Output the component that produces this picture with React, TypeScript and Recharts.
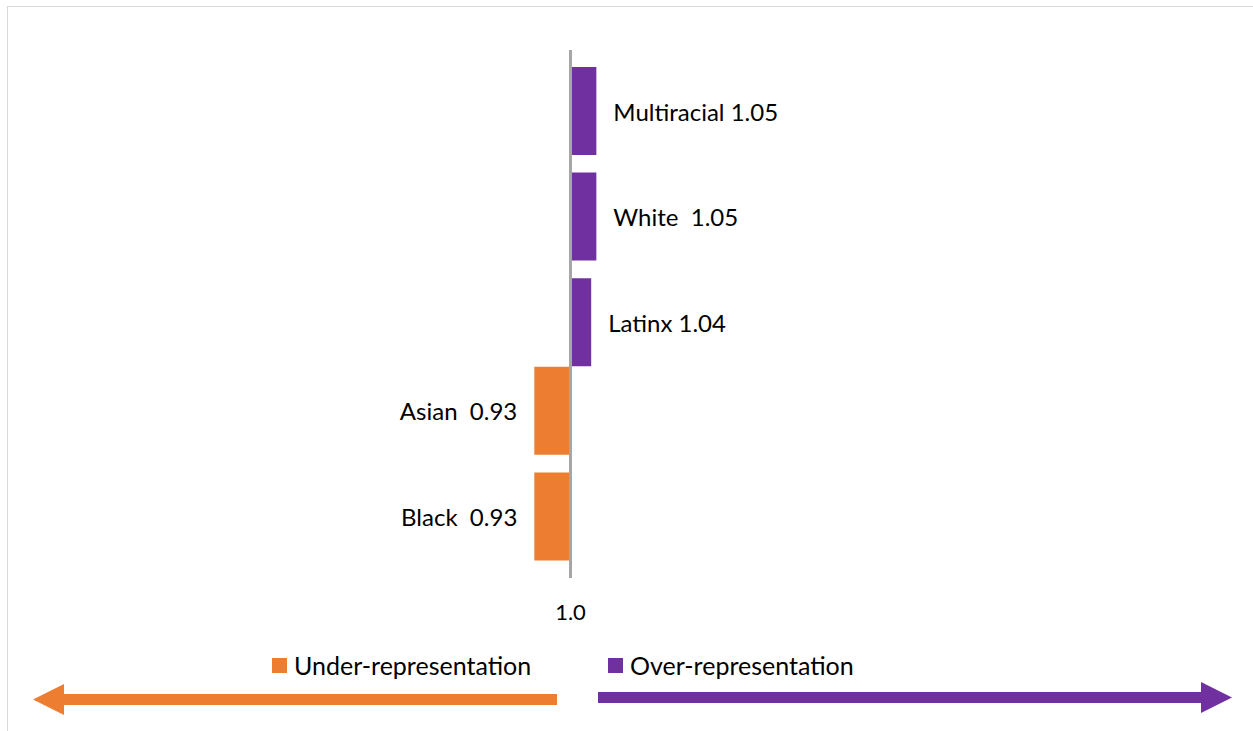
import React from "react";
import { BarChart, Bar, XAxis, YAxis, ReferenceLine, LabelList, Legend } from "recharts";

// groups from top to bottom, representation ratio against parity (1.0)
const groups = ["Multiracial", "White", "Latinx", "Asian", "Black"];
const overRatio = [1.05, 1.05, 1.04, null, null];
const underRatio = [null, null, null, 0.93, 0.93];
const labelSpacer = [" ", "  ", " ", "  ", "  "];
const parity = 1.0;
const parityTicks = [0];

const UNDER_NAME = "Under-representation";
const OVER_NAME = "Over-representation";

const ORANGE = "#ED7D31";
const PURPLE = "#7030A0";
const AXIS_GRAY = "#A6A6A6";
const FONT = "Lato, 'Noto Sans', sans-serif";
const LABEL_SIZE = 24;

const data = groups.map((g, i) => {
  const o = overRatio[i];
  const u = underRatio[i];
  return {
    group: g,
    over: o == null ? null : o - parity,
    under: u == null ? null : u - parity,
    overLabel: o == null ? null : `${g}${labelSpacer[i]}${o.toFixed(2)}`,
    underLabel: u == null ? null : `${g}${labelSpacer[i]}${u.toFixed(2)}`,
  };
});

function BarLabel(props: any) {
  const { value, side } = props;
  if (value == null || value === "") return null;
  const vb = props.viewBox ?? props;
  const x = Number(vb.x);
  const w = Number(vb.width);
  const y = Number(vb.y);
  const h = Number(vb.height);
  const left = Math.min(x, x + w);
  const right = Math.max(x, x + w);
  const tx = side === "right" ? right + 17 : left - 17;
  return (
    <text
      x={tx}
      y={y + h / 2}
      textAnchor={side === "right" ? "start" : "end"}
      dominantBaseline="central"
      fontFamily={FONT}
      fontSize={LABEL_SIZE}
      fill="#000"
      xmlSpace="preserve"
      style={{ whiteSpace: "pre" }}
    >
      {value}
    </text>
  );
}

function ParityTick(props: any) {
  const { x, y, payload } = props;
  return (
    <text x={x} y={y} dy={34} textAnchor="middle" fontFamily={FONT} fontSize={22} fill="#000">
      {(payload.value + parity).toFixed(1)}
    </text>
  );
}

function LegendContent(props: any) {
  const items = [...(props.payload ?? [])].sort((a: any, b: any) =>
    a.value === UNDER_NAME ? -1 : b.value === UNDER_NAME ? 1 : 0
  );
  return (
    <div style={{ display: "flex", paddingLeft: 272, fontFamily: FONT, fontSize: 25, color: "#000" }}>
      {items.map((p: any) => (
        <div key={p.value} style={{ display: "flex", alignItems: "center", width: 336, height: 30 }}>
          <span style={{ display: "inline-block", width: 15, height: 15, background: p.color, marginRight: 7 }} />
          <span style={{ lineHeight: "30px" }}>{p.value}</span>
        </div>
      ))}
    </div>
  );
}

function Arrows() {
  return (
    <svg width={1253} height={731} style={{ position: "absolute", left: 0, top: 0 }}>
      <rect x={60} y={694} width={497} height={11} fill={ORANGE} />
      <polygon points="33,699.5 64,684 64,715" fill={ORANGE} />
      <rect x={598} y={692} width={606} height={11} fill={PURPLE} />
      <polygon points="1232,697.5 1201,682 1201,713" fill={PURPLE} />
    </svg>
  );
}

export default function App() {
  return (
    <div
      style={{
        position: "absolute",
        left: 0,
        top: 0,
        width: 1253,
        height: 731,
        overflow: "hidden",
        background: "#fff",
      }}
    >
      <div
        style={{
          position: "absolute",
          left: 7,
          top: 6,
          width: 1300,
          height: 800,
          border: "1px solid #D9D9D9",
        }}
      />
      <Arrows />
      <div style={{ position: "absolute", left: 0, top: 0 }}>
        <BarChart
          width={1253}
          height={731}
          layout="vertical"
          data={data}
          margin={{ top: 50, right: 424, bottom: 113, left: 312 }}
          barCategoryGap={0}
          barGap={-71}
        >
          <YAxis type="category" dataKey="group" hide />
          <XAxis
            type="number"
            domain={[-0.5, 0.5]}
            ticks={parityTicks}
            height={40}
            axisLine={false}
            tickLine={false}
            tick={<ParityTick />}
          />
          <Bar dataKey="under" name={UNDER_NAME} fill={ORANGE} barSize={88} legendType="square" isAnimationActive={false}>
            <LabelList dataKey="underLabel" content={(p: any) => <BarLabel {...p} side="left" />} />
          </Bar>
          <Bar dataKey="over" name={OVER_NAME} fill={PURPLE} barSize={88} legendType="square" isAnimationActive={false}>
            <LabelList dataKey="overLabel" content={(p: any) => <BarLabel {...p} side="right" />} />
          </Bar>
          <ReferenceLine x={0} stroke={AXIS_GRAY} strokeWidth={3} ifOverflow="extendDomain" />
          <Legend
            layout="horizontal"
            verticalAlign="middle"
            align="center"
            content={<LegendContent />}
            wrapperStyle={{ left: 0, top: 650, width: 1253, height: 30 }}
          />
        </BarChart>
      </div>
    </div>
  );
}
